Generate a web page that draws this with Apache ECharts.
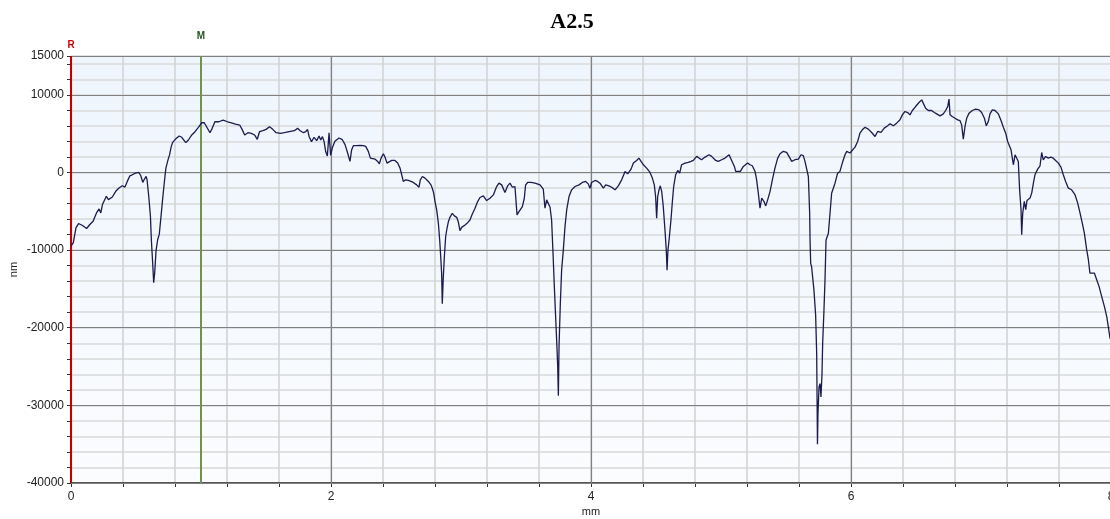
<!DOCTYPE html>
<html>
<head>
<meta charset="utf-8">
<title>A2.5</title>
<script src="https://cdn.jsdelivr.net/npm/echarts@6/dist/echarts.min.js"></script>
<style>
  html, body { margin: 0; padding: 0; background: #ffffff; }
  #chart { width: 1110px; height: 519px; }
</style>
</head>
<body>
<div id="chart"></div>
<script>
// Surface profile: position along the scan (mm) and height (nm)
const distanceMm = [
  0.000, 0.008, 0.018, 0.038, 0.058, 0.089, 0.120, 0.145, 0.170, 0.196,
  0.216, 0.229, 0.242, 0.272, 0.288, 0.318, 0.344, 0.369, 0.394, 0.415,
  0.433, 0.453, 0.471, 0.496, 0.522, 0.537, 0.552, 0.565, 0.578, 0.585,
  0.598, 0.611, 0.618, 0.628, 0.636, 0.644, 0.654, 0.667, 0.679, 0.695,
  0.707, 0.720, 0.730, 0.746, 0.758, 0.771, 0.781, 0.802, 0.832, 0.852,
  0.883, 0.903, 0.929, 0.954, 0.980, 1.005, 1.025, 1.043, 1.069, 1.086,
  1.107, 1.137, 1.170, 1.204, 1.234, 1.265, 1.298, 1.316, 1.336, 1.361,
  1.387, 1.412, 1.433, 1.450, 1.476, 1.501, 1.527, 1.552, 1.578, 1.590,
  1.611, 1.641, 1.679, 1.718, 1.743, 1.763, 1.789, 1.806, 1.819, 1.832,
  1.850, 1.870, 1.890, 1.908, 1.921, 1.934, 1.947, 1.959, 1.972, 1.985,
  1.997, 2.010, 2.030, 2.062, 2.087, 2.108, 2.128, 2.146, 2.159, 2.172,
  2.197, 2.223, 2.249, 2.267, 2.287, 2.303, 2.318, 2.338, 2.359, 2.372,
  2.385, 2.403, 2.415, 2.431, 2.446, 2.467, 2.492, 2.513, 2.531, 2.544,
  2.556, 2.574, 2.595, 2.615, 2.633, 2.659, 2.677, 2.687, 2.703, 2.723,
  2.749, 2.769, 2.779, 2.790, 2.800, 2.813, 2.826, 2.836, 2.844, 2.851,
  2.856, 2.864, 2.872, 2.882, 2.890, 2.903, 2.915, 2.933, 2.949, 2.967,
  2.979, 2.992, 3.005, 3.031, 3.051, 3.069, 3.087, 3.108, 3.128, 3.146,
  3.172, 3.197, 3.223, 3.249, 3.274, 3.292, 3.313, 3.338, 3.359, 3.377,
  3.395, 3.415, 3.426, 3.431, 3.441, 3.454, 3.472, 3.487, 3.497, 3.513,
  3.538, 3.569, 3.608, 3.633, 3.646, 3.659, 3.672, 3.685, 3.697, 3.708,
  3.718, 3.728, 3.738, 3.744, 3.749, 3.754, 3.764, 3.774, 3.787, 3.800,
  3.813, 3.831, 3.851, 3.877, 3.908, 3.933, 3.959, 3.979, 3.992, 4.005,
  4.031, 4.051, 4.069, 4.095, 4.113, 4.138, 4.159, 4.185, 4.210, 4.236,
  4.262, 4.282, 4.308, 4.326, 4.351, 4.369, 4.385, 4.403, 4.428, 4.454,
  4.472, 4.487, 4.497, 4.505, 4.513, 4.523, 4.533, 4.544, 4.556, 4.569,
  4.579, 4.585, 4.592, 4.603, 4.615, 4.626, 4.636, 4.651, 4.667, 4.682,
  4.697, 4.723, 4.749, 4.769, 4.787, 4.813, 4.831, 4.851, 4.877, 4.908,
  4.928, 4.959, 4.979, 5.005, 5.031, 5.062, 5.082, 5.103, 5.113, 5.128,
  5.149, 5.172, 5.205, 5.223, 5.241, 5.262, 5.274, 5.287, 5.300, 5.313,
  5.331, 5.344, 5.359, 5.377, 5.395, 5.415, 5.436, 5.454, 5.479, 5.505,
  5.523, 5.544, 5.569, 5.595, 5.615, 5.633, 5.646, 5.659, 5.672, 5.682,
  5.685, 5.690, 5.697, 5.715, 5.728, 5.736, 5.740, 5.742, 5.746, 5.754,
  5.762, 5.769, 5.777, 5.782, 5.792, 5.800, 5.808, 5.826, 5.851, 5.877,
  5.897, 5.915, 5.933, 5.954, 5.967, 5.992, 6.005, 6.031, 6.051, 6.069,
  6.087, 6.108, 6.133, 6.159, 6.185, 6.205, 6.231, 6.256, 6.282, 6.300,
  6.326, 6.351, 6.377, 6.395, 6.415, 6.436, 6.454, 6.472, 6.497, 6.523,
  6.544, 6.559, 6.574, 6.595, 6.620, 6.641, 6.659, 6.685, 6.710, 6.728,
  6.744, 6.754, 6.762, 6.779, 6.800, 6.821, 6.838, 6.851, 6.864, 6.877,
  6.890, 6.908, 6.933, 6.959, 6.985, 7.005, 7.026, 7.041, 7.056, 7.069,
  7.087, 7.108, 7.133, 7.154, 7.172, 7.190, 7.205, 7.215, 7.231, 7.249,
  7.262, 7.274, 7.287, 7.297, 7.308, 7.313, 7.321, 7.333, 7.344, 7.354,
  7.364, 7.377, 7.390, 7.403, 7.415, 7.436, 7.454, 7.467, 7.479, 7.497,
  7.518, 7.538, 7.556, 7.574, 7.595, 7.615, 7.633, 7.651, 7.672, 7.697,
  7.723, 7.744, 7.762, 7.779, 7.795, 7.813, 7.826, 7.838, 7.851, 7.872,
  7.890, 7.908, 7.928, 7.949, 7.967, 7.979, 7.992, 8.000
];

const heightNm = [
  -9500, -9480, -9050, -7130, -6580, -6830, -7220, -6700, -6280, -5210,
  -4700, -5210, -4140, -3070, -3500, -3160, -2430, -2000, -1710, -1880,
  -1150, -430, -300, -85, 0, -430, -1280, -850, -510, -940,
  -3070, -5640, -8630, -11600, -14200, -12900, -10100, -8630, -7980, -5210,
  -3070, -940, 555, 1620, 2260, 3330, 3840, 4270, 4700, 4530,
  3840, 4180, 4830, 5250, 5810, 6400, 6400, 5890, 5120, 5680,
  6530, 6530, 6750, 6530, 6400, 6230, 6110, 5550, 4830, 5120,
  5040, 4830, 4270, 5250, 5380, 5550, 5890, 5550, 5120, 5250,
  5040, 5120, 5250, 5380, 5680, 5380, 5120, 5250, 5550, 4610,
  3970, 4530, 4100, 4700, 4180, 4610, 3970, 2690, 2130, 5100,
  2200, 3150, 4010, 4440, 4220, 3580, 2500, 1420, 2930, 3450,
  3450, 3490, 3450, 3360, 2720, 1850, 1980, 1720, 1420, 1120,
  1850, 2410, 1980, 1210, 1420, 1550, 1550, 1210, 560, -300,
  -1160, -950, -1030, -1160, -1290, -1600, -1900, -950, -520, -730,
  -1160, -1600, -2030, -2670, -3750, -4830, -6550, -8710, -10860, -13020,
  -16900, -13450, -10860, -8280, -7410, -6340, -5780, -5260, -5600, -5780,
  -6340, -7500, -7070, -6770, -6470, -6120, -5340, -4610, -3750, -3230,
  -3020, -3620, -3320, -2890, -1810, -1380, -1600, -2590, -1720, -1380,
  -1900, -1810, -1720, -5470, -5170, -5040, -4400, -3320, -1600, -1290,
  -1290, -1380, -1600, -2160, -4610, -3530, -3750, -4480, -6120, -10430,
  -14740, -18620, -22500, -25080, -28750, -22500, -16900, -12590, -10000, -6980,
  -4830, -3100, -2240, -1810, -1600, -1290, -1160, -1470, -2030, -1290,
  -1030, -1160, -1380, -2030, -1600, -1720, -1900, -2240, -1720, -950,
  130, -170, 430, 1210, 1550, 1850, 1420, 990, 560, 0,
  -730, -1600, -3100, -5900, -3100, -2240, -1720, -2460, -4400, -7410,
  -10000, -12590, -10000, -8280, -6120, -3750, -1810, -300, 260, -90,
  990, 1210, 1290, 1420, 1550, 2070, 1850, 1640, 1980, 2280,
  2070, 1550, 1420, 1640, 1850, 2280, 1550, 780, 130, 340,
  130, 780, 1210, 990, 860, 130, -950, -2670, -4610, -3320,
  -3750, -4310, -3530, -2460, -950, 560, 1850, 2410, 2720, 2590,
  2070, 1420, 1640, 1720, 2280, 2160, 1420, 1210, -520, -5260,
  -8700, -11720, -12150, -15160, -18400, -23330, -31070, -35000, -31070, -27630,
  -27200, -28920, -25910, -22040, -17740, -13870, -8710, -7840, -2670, -1380,
  -90, 130, 1210, 2280, 2720, 2500, 2700, 3260, 3990, 5060,
  5490, 5830, 5580, 5150, 4630, 5280, 5150, 5710, 6010, 6260,
  6010, 6350, 6780, 7420, 7850, 7720, 7420, 7980, 8490, 9010,
  9350, 9270, 8280, 7980, 7980, 7720, 7550, 7290, 7550, 7980,
  8490, 9440, 7420, 7210, 6990, 6780, 6690, 6130, 4290, 5920,
  6990, 7640, 7980, 8150, 8060, 7720, 6990, 6010, 6560, 7550,
  8060, 7980, 7550, 6690, 5830, 5060, 3990, 4120, 2920, 990,
  2270, 2400, 1420, -2230, -4800, -8020, -5230, -3730, -4800, -3600,
  -3730, -3300, -2660, -1370, -300, 430, 860, 2570, 1630, 2060,
  1840, 1970, 1840, 1540, 1200, 690, -300, -1160, -2020, -2230,
  -2870, -3950, -5230, -6520, -7810, -9950, -11240, -12960, -12740, -12960,
  -13810, -14670, -15960, -17250, -18530, -19820, -21320, -21600
];

// Reference / measurement cursor positions (mm)
const cursorNames = ['R', 'M'];
const cursorPositions = [0, 1];

// Axis ranges and tick steps
const xRange = [0, 8];
const yRange = [-40000, 15000];
const xMinorStep = 0.4;
const xMajorStep = 2;
const yMinorStep = 2000;
const yMajorStep = 10000;

const chart = echarts.init(document.getElementById('chart'), null, { renderer: 'canvas' });

const profile = distanceMm.map((x, i) => [x, heightNm[i]]);

const isMultiple = (v, step) => Math.abs(v / step - Math.round(v / step)) < 1e-6;

const labelFont = { fontFamily: 'Liberation Sans, Arial, sans-serif', fontSize: 12, color: '#222' };

const cursorStyles = {
  R: { line: '#c00000', label: '#d00000', distance: 6 },
  M: { line: '#6f9448', label: '#25561c', distance: 15 }
};

const option = {
  backgroundColor: '#ffffff',
  animation: false,
  title: {
    text: 'A2.5',
    left: 567,
    top: 6,
    textAlign: 'center',
    textStyle: {
      fontFamily: 'Liberation Serif, Times New Roman, serif',
      fontWeight: 'bold',
      fontSize: 22,
      color: '#000'
    }
  },
  grid: {
    left: 71,
    top: 56,
    width: 1040,
    height: 427,
    outerBoundsMode: 'none',
    containLabel: false,
    show: true,
    borderWidth: 0,
    backgroundColor: new echarts.graphic.LinearGradient(0, 0, 0, 1, [
      { offset: 0, color: '#eef5fd' },
      { offset: 1, color: '#fbfcfe' }
    ])
  },
  xAxis: [
    {
      type: 'value',
      min: xRange[0],
      max: xRange[1],
      interval: xMinorStep,
      position: 'bottom',
      name: 'mm',
      nameLocation: 'middle',
      nameGap: 23,
      nameMoveOverlap: false,
      nameTextStyle: { fontFamily: 'Liberation Sans, Arial, sans-serif', fontSize: 11, color: '#222' },
      axisLine: { show: true, onZero: false, lineStyle: { color: '#555', width: 2 } },
      axisTick: { show: true, length: 4, lineStyle: { color: '#333' } },
      axisLabel: {
        ...labelFont,
        margin: 8,
        formatter: v => (isMultiple(v, xMajorStep) ? String(Math.round(v)) : '')
      },
      splitLine: { show: true, lineStyle: { color: '#d4d4d4', width: 1.6 } },
      z: 1
    },
    {
      type: 'value',
      min: xRange[0],
      max: xRange[1],
      interval: xMajorStep,
      position: 'bottom',
      axisLine: { show: false },
      axisTick: { show: false },
      axisLabel: { show: false },
      splitLine: { show: true, lineStyle: { color: '#808080', width: 1.2 } },
      z: 2
    }
  ],
  yAxis: [
    {
      type: 'value',
      min: yRange[0],
      max: yRange[1],
      interval: yMinorStep,
      position: 'left',
      name: 'nm',
      nameLocation: 'middle',
      nameGap: 52,
      nameRotate: 90,
      nameMoveOverlap: false,
      nameTextStyle: { fontFamily: 'Liberation Sans, Arial, sans-serif', fontSize: 11, color: '#222' },
      axisLine: { show: false },
      axisTick: { show: true, length: 4, lineStyle: { color: '#333' } },
      axisLabel: {
        ...labelFont,
        margin: 7,
        formatter: v => (isMultiple(v, yMajorStep) || v === yRange[1] ? String(v) : '')
      },
      splitLine: { show: true, lineStyle: { color: '#d8d8d8', width: 1.6 } },
      z: 1
    },
    {
      type: 'value',
      min: yRange[0],
      max: yRange[1],
      interval: yMajorStep,
      position: 'left',
      axisLine: { show: false },
      axisTick: { show: false },
      axisLabel: { show: false },
      splitLine: { show: true, lineStyle: { color: '#808080', width: 1.2 } },
      z: 2
    }
  ],
  series: [
    {
      type: 'line',
      name: 'profile',
      xAxisIndex: 0,
      yAxisIndex: 0,
      data: profile,
      showSymbol: false,
      symbol: 'none',
      lineStyle: { color: '#1b1b4f', width: 1.3 },
      z: 5,
      markLine: {
        silent: true,
        symbol: ['none', 'none'],
        animation: false,
        data: cursorNames.map((name, i) => ({
          xAxis: cursorPositions[i],
          lineStyle: { color: cursorStyles[name].line, width: 2, type: 'solid' },
          label: {
            show: true,
            position: 'end',
            distance: cursorStyles[name].distance,
            formatter: name,
            color: cursorStyles[name].label,
            fontFamily: 'Liberation Sans, Arial, sans-serif',
            fontWeight: 'bold',
            fontSize: 10
          }
        }))
      }
    }
  ]
};

chart.setOption(option);
</script>
</body>
</html>
